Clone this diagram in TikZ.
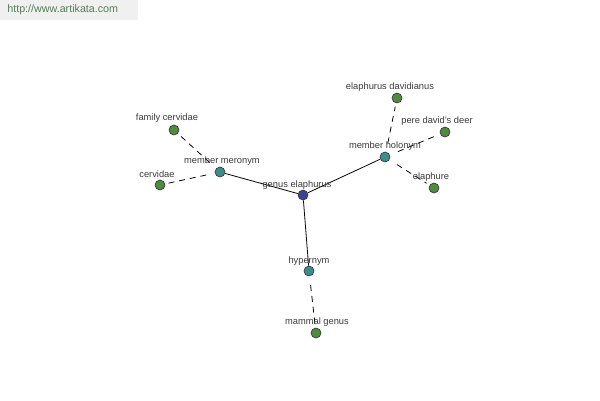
\documentclass[tikz,border=0pt]{standalone}
\usepackage{fontspec}
\setmainfont{Liberation Sans}
\usepackage{tikz}
\usetikzlibrary{backgrounds}
\usepackage{xcolor}
\definecolor{hub}{HTML}{3B4494}
\definecolor{rel}{HTML}{3D8B8B}
\definecolor{leafc}{HTML}{4E8B3F}
\definecolor{ink}{HTML}{3A3A3A}
\definecolor{mark}{HTML}{5B7A5B}
\definecolor{markbg}{HTML}{F0F0F0}

\begin{document}
\begin{tikzpicture}[x=0.02cm, y=-0.02cm, font=\fontsize{5.3}{6}\selectfont,
    dot/.style={circle, draw=black!80, line width=0.35pt, inner sep=0pt, minimum size=0.2cm},
    hubnode/.style={dot, fill=hub},
    relnode/.style={dot, fill=rel},
    leafnode/.style={dot, fill=leafc},
    lbl/.style={text=ink, inner sep=0pt},
    solidedge/.style={line width=0.45pt},
    dashedge/.style={line width=0.45pt, dash pattern=on 3.4pt off 2.8pt, shorten <=5pt, shorten >=2pt}]
    \useasboundingbox (0,0) rectangle (600,400);
    \fill[markbg] (0,0) rectangle (138,20);
    \node[text=mark, font=\fontsize{6.1}{7}\selectfont, anchor=west, inner sep=0pt] (site) at (7,10) {http://www.artikata.com};
    % hub and relations
    \node[hubnode] (genus) at (303,195) {};
    \node[relnode] (mero) at (220,172) {};
    \node[relnode] (holo) at (385,157) {};
    \node[relnode] (hyper) at (309,271) {};
    % leaves
    \node[leafnode] (family) at (174,130) {};
    \node[leafnode] (cerv) at (160,185) {};
    \node[leafnode] (davidianus) at (397,98) {};
    \node[leafnode] (pere) at (445,132) {};
    \node[leafnode] (elaph) at (434,188) {};
    \node[leafnode] (mammal) at (316,333) {};
    % labels
    \node[lbl] (genuslbl) at (297,185) {genus elaphurus};
    \node[lbl] (merolbl) at (222,161.5) {member meronym};
    \node[lbl] (hololbl) at (385,146.5) {member holonym};
    \node[lbl] (hyperlbl) at (309,261) {hypernym};
    \node[lbl] (familylbl) at (167,118.5) {family cervidae};
    \node[lbl] (cervlbl) at (157,174.5) {cervidae};
    \node[lbl] (davidianuslbl) at (390,87) {elaphurus davidianus};
    \node[lbl] (perelbl) at (437,121.5) {pere david's deer};
    \node[lbl] (elaphlbl) at (431,177.5) {elaphure};
    \node[lbl] (mammallbl) at (317,322.5) {mammal genus};
    \begin{scope}[on background layer]
      \draw[solidedge] (genus) -- (mero);
      \draw[solidedge] (genus) -- (holo);
      \draw[solidedge] (genus) -- (hyper);
      \draw[dashedge] (mero) -- (family);
      \draw[dashedge] (mero) -- (cerv);
      \draw[dashedge] (holo) -- (davidianus);
      \draw[dashedge] (holo) -- (pere);
      \draw[dashedge] (holo) -- (elaph);
      \draw[dashedge] (hyper) -- (mammal);
    \end{scope}
  \end{tikzpicture}
\end{document}
